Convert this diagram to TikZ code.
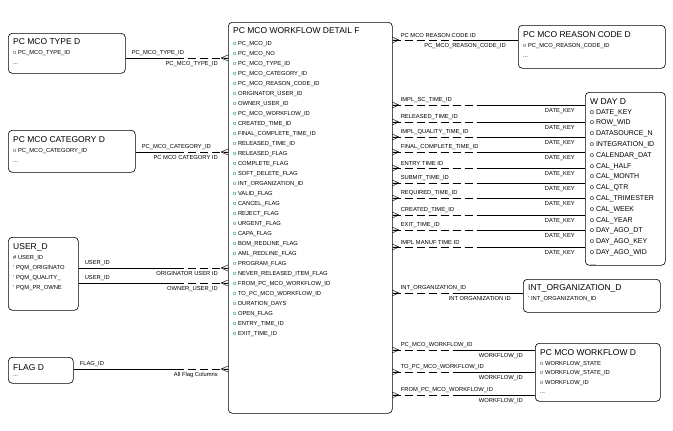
\documentclass[tikz,border=0pt]{standalone}
\usepackage{fontspec}
\setmainfont{Liberation Sans}
\usetikzlibrary{positioning}
\definecolor{attrteal}{RGB}{0,128,128}
\definecolor{attrpurple}{RGB}{110,60,110}
\tikzset{
  entity/.style={draw, rounded corners=4pt, line width=0.6pt, anchor=north west, inner sep=0pt},
  etitle/.style={anchor=north west, inner sep=0pt, font=\fontsize{8.5}{9}\selectfont},
  eattr/.style={anchor=north west, inner sep=0pt, align=left, font=\fontsize{5.8}{10}\selectfont},
  rlabel/.style={inner sep=0pt, font=\fontsize{5.8}{6}\selectfont},
  dashpart/.style={dash pattern=on 8pt off 4pt}
}
% crow's foot at a box edge, lines coming from side dir (-1 left, +1 right)
\newcommand{\crowfoot}[3]{%
  \draw (#1+#3*7,#2) -- (#1,#2-3) (#1+#3*7,#2) -- (#1,#2) (#1+#3*7,#2) -- (#1,#2+3);}
\begin{document}
\begin{tikzpicture}[x=1pt,y=-1pt]
\useasboundingbox (0,0) rectangle (673,431);

% Main fact entity
\node[entity, minimum width=164pt, minimum height=391pt] (fact) at (228,22) {};
\node[etitle] (facttitle) at (233,27) {PC MCO WORKFLOW DETAIL F};
\node[eattr] (factattr) at (233,41) {%
\textcolor{attrteal}{o} PC\_MCO\_ID\\ \textcolor{attrteal}{o} PC\_MCO\_NO\\
\textcolor{attrteal}{o} PC\_MCO\_TYPE\_ID\\ \textcolor{attrteal}{o} PC\_MCO\_CATEGORY\_ID\\
\textcolor{attrteal}{o} PC\_MCO\_REASON\_CODE\_ID\\ \textcolor{attrteal}{o} ORIGINATOR\_USER\_ID\\
\textcolor{attrteal}{o} OWNER\_USER\_ID\\ \textcolor{attrteal}{o} PC\_MCO\_WORKFLOW\_ID\\
\textcolor{attrteal}{o} CREATED\_TIME\_ID\\ \textcolor{attrteal}{o} FINAL\_COMPLETE\_TIME\_ID\\
\textcolor{attrteal}{o} RELEASED\_TIME\_ID\\ \textcolor{attrteal}{o} RELEASED\_FLAG\\
\textcolor{attrteal}{o} COMPLETE\_FLAG\\ \textcolor{attrteal}{o} SOFT\_DELETE\_FLAG\\
\textcolor{attrteal}{o} INT\_ORGANIZATION\_ID\\ \textcolor{attrteal}{o} VALID\_FLAG\\
\textcolor{attrteal}{o} CANCEL\_FLAG\\ \textcolor{attrteal}{o} REJECT\_FLAG\\
\textcolor{attrteal}{o} URGENT\_FLAG\\ \textcolor{attrteal}{o} CAPA\_FLAG\\
\textcolor{attrteal}{o} BOM\_REDLINE\_FLAG\\ \textcolor{attrteal}{o} AML\_REDLINE\_FLAG\\
\textcolor{attrteal}{o} PROGRAM\_FLAG\\ \textcolor{attrteal}{o} NEVER\_RELEASED\_ITEM\_FLAG\\
\textcolor{attrteal}{o} FROM\_PC\_MCO\_WORKFLOW\_ID\\ \textcolor{attrteal}{o} TO\_PC\_MCO\_WORKFLOW\_ID\\
\textcolor{attrteal}{o} DURATION\_DAYS\\ \textcolor{attrteal}{o} OPEN\_FLAG\\
\textcolor{attrteal}{o} ENTRY\_TIME\_ID\\ \textcolor{attrteal}{o} EXIT\_TIME\_ID};

% Left dimensions
\node[entity, minimum width=117pt, minimum height=40pt] (typed) at (8,33) {};
\node[etitle] at (13,38) {PC MCO TYPE D};
\node[eattr] at (13,50) {\textcolor{attrpurple}{o} PC\_MCO\_TYPE\_ID\\ ...};
\node[entity, minimum width=127pt, minimum height=42pt] (catd) at (8,130) {};
\node[etitle] at (13,136) {PC MCO CATEGORY D};
\node[eattr] at (13,148) {\textcolor{attrpurple}{o} PC\_MCO\_CATEGORY\_ID\\ ...};
\node[entity, minimum width=70pt, minimum height=73pt] (userd) at (8,237) {};
\node[etitle] at (13,243) {USER\_D};
\node[eattr] at (13,255) {\# USER\_ID\\ ' PQM\_ORIGINATO\\ ' PQM\_QUALITY\_\\ ' PQM\_PR\_OWNE};
\node[entity, minimum width=65pt, minimum height=26pt] (flagd) at (8,357) {};
\node[etitle] at (13,364) {FLAG D};
\node[eattr] at (13,375) {...};

% Right dimensions
\node[entity, minimum width=147pt, minimum height=43pt] (reasond) at (518,25) {};
\node[etitle] at (523,31) {PC MCO REASON CODE D};
\node[eattr] at (523,43) {\textcolor{attrpurple}{o} PC\_MCO\_REASON\_CODE\_ID\\ ...};
\node[entity, minimum width=80pt, minimum height=173pt] (dayd) at (585,92) {};
\node[etitle] at (590,98) {W DAY D};
\node[eattr, font=\fontsize{7}{10.8}\selectfont] at (590,109) {o DATE\_KEY\\ o ROW\_WID\\ o DATASOURCE\_N\\
o INTEGRATION\_ID\\ o CALENDAR\_DAT\\ o CAL\_HALF\\ o CAL\_MONTH\\ o CAL\_QTR\\ o CAL\_TRIMESTER\\
o CAL\_WEEK\\ o CAL\_YEAR\\ o DAY\_AGO\_DT\\ o DAY\_AGO\_KEY\\ o DAY\_AGO\_WID\\ ...};
\node[entity, minimum width=137pt, minimum height=33pt] (orgd) at (523,279) {};
\node[etitle] at (528,284) {INT\_ORGANIZATION\_D};
\node[eattr] at (528,296) {' INT\_ORGANIZATION\_ID};
\node[entity, minimum width=125pt, minimum height=58pt] (wfd) at (535,343) {};
\node[etitle] at (540,349) {PC MCO WORKFLOW D};
\node[eattr, font=\fontsize{5.8}{9.5}\selectfont] at (540,361) {\textcolor{attrpurple}{o} WORKFLOW\_STATE\\ \textcolor{attrpurple}{o} WORKFLOW\_STATE\_ID\\
\textcolor{attrpurple}{o} WORKFLOW\_ID\\ ...};

% Left relationships
\foreach \yy/\src/\up/\dn in {58/typed/PC\_MCO\_TYPE\_ID/PC\_MCO\_TYPE\_ID,
    152/catd/PC\_MCO\_CATEGORY\_ID/PC MCO CATEGORY ID,
    268/userd/USER\_ID/ORIGINATOR USER ID,
    283/userd/USER\_ID/OWNER\_USER\_ID,
    369/flagd/FLAG\_ID/All Flag Columns} {
  \coordinate (m) at (176,\yy);
  \draw (\src.east |- m) -- (m);
  \draw[dashpart] (m) -- (fact.west |- m);
  \node[rlabel, anchor=south west] at ([xshift=6pt,yshift=2pt]\src.east |- m) {\up};
  \node[rlabel, anchor=north east] at ([xshift=-10pt,yshift=-3pt]fact.west |- m) {\dn};
  \crowfoot{228}{\yy}{-1}
}

% Right relationships
\foreach \yy/\dst/\up/\dn in {40/reasond/PC MCO REASON CODE ID/PC\_MCO\_REASON\_CODE\_ID,
    293/orgd/INT\_ORGANIZATION\_ID/INT ORGANIZATION ID,
    350/wfd/PC\_MCO\_WORKFLOW\_ID/WORKFLOW\_ID,
    372/wfd/TO\_PC\_MCO\_WORKFLOW\_ID/WORKFLOW\_ID,
    395/wfd/FROM\_PC\_MCO\_WORKFLOW\_ID/WORKFLOW\_ID} {
  \coordinate (m) at (455,\yy);
  \draw[dashpart] (fact.east |- m) -- (m);
  \draw (m) -- (\dst.west |- m);
  \node[rlabel, anchor=south west] at ([xshift=8pt,yshift=2pt]fact.east |- m) {\up};
  \node[rlabel, anchor=north east] at ([xshift=-12pt,yshift=-3pt]\dst.west |- m) {\dn};
  \crowfoot{392}{\yy}{1}
}
\foreach \yy/\up in {105/IMPL\_SC\_TIME\_ID, 122/RELEASED\_TIME\_ID, 137/IMPL\_QUALITY\_TIME\_ID,
    152/FINAL\_COMPLETE\_TIME\_ID, 168/ENTRY TIME ID, 183/SUBMIT\_TIME\_ID,
    198/REQUIRED\_TIME\_ID, 215/CREATED\_TIME\_ID, 230/EXIT\_TIME\_ID, 247/IMPL MANUF TIME ID} {
  \coordinate (m) at (480,\yy);
  \draw[dashpart] (fact.east |- m) -- (m);
  \draw (m) -- (dayd.west |- m);
  \node[rlabel, anchor=south west] at ([xshift=8pt,yshift=2pt]fact.east |- m) {\up};
  \node[rlabel, anchor=north east] at ([xshift=-10pt,yshift=-3pt]dayd.west |- m) {DATE\_KEY};
  \crowfoot{392}{\yy}{1}
}
\end{tikzpicture}
\end{document}
